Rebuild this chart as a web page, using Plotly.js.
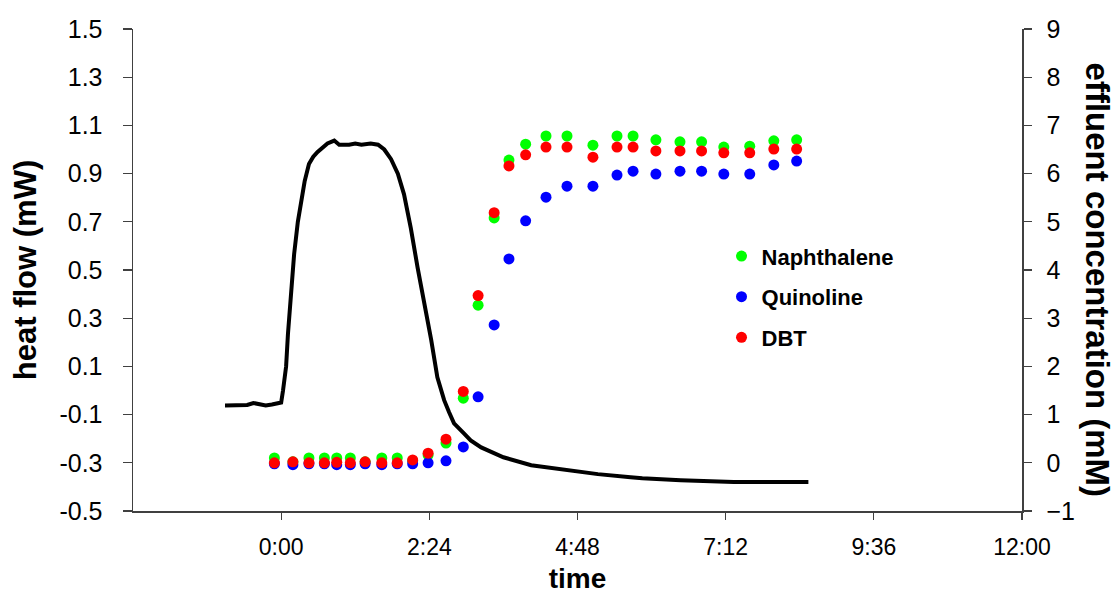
<!DOCTYPE html>
<html>
<head>
<meta charset="utf-8">
<script src="https://cdn.plot.ly/plotly-3.0.1.min.js"></script>
<style>
  html, body { margin: 0; padding: 0; background: #fff; }
  #chart { width: 1120px; height: 594px; }
</style>
</head>
<body>
<div id="chart"></div>
<script>
// ---- data (time in hours) ----
var heatTime = [-0.91, -0.7, -0.55, -0.45, -0.35, -0.25, -0.15, -0.05, 0.0, 0.03, 0.06, 0.08, 0.11, 0.16, 0.21, 0.27, 0.32, 0.38, 0.45, 0.52, 0.59, 0.67, 0.75, 0.86, 0.94, 1.1, 1.2, 1.3, 1.45, 1.57, 1.67, 1.78, 1.89, 1.99, 2.1, 2.21, 2.32, 2.43, 2.53, 2.64, 2.72, 2.8, 2.96, 3.07, 3.24, 3.4, 3.6, 4.05, 4.58, 5.13, 5.66, 5.85, 6.47, 7.33, 8.54];
var heatFlow = [-0.062, -0.062, -0.06, -0.052, -0.055, -0.062, -0.058, -0.055, -0.05, 0.0, 0.06, 0.1, 0.235, 0.426, 0.566, 0.70, 0.785, 0.868, 0.94, 0.97, 0.99, 1.01, 1.025, 1.037, 1.02, 1.02, 1.025, 1.02, 1.025, 1.02, 1.0, 0.96, 0.90, 0.814, 0.674, 0.51, 0.37, 0.21, 0.055, -0.04, -0.09, -0.136, -0.178, -0.207, -0.236, -0.255, -0.277, -0.31, -0.33, -0.347, -0.36, -0.364, -0.372, -0.38, -0.38];

var sampleTime = [-0.11, 0.19, 0.45, 0.70, 0.90, 1.12, 1.36, 1.63, 1.88, 2.13, 2.38, 2.67, 2.95, 3.19, 3.45, 3.69, 3.96, 4.29, 4.63, 5.05, 5.44, 5.70, 6.07, 6.46, 6.81, 7.17, 7.59, 7.98, 8.35];
var naphthalene = [0.10, 0.02, 0.10, 0.10, 0.10, 0.10, 0.02, 0.10, 0.10, 0.04, 0.16, 0.41, 1.34, 3.27, 5.08, 6.28, 6.61, 6.78, 6.78, 6.59, 6.78, 6.78, 6.70, 6.66, 6.66, 6.55, 6.57, 6.68, 6.70];
var quinoline   = [-0.02, -0.04, -0.02, -0.02, -0.04, -0.04, -0.02, -0.04, -0.02, -0.02, 0.0, 0.04, 0.33, 1.37, 2.86, 4.23, 5.02, 5.51, 5.74, 5.74, 5.97, 6.05, 5.99, 6.05, 6.05, 5.99, 5.99, 6.18, 6.26];
var dbt         = [0.0, 0.02, 0.0, 0.0, 0.01, 0.0, 0.02, 0.0, 0.0, 0.06, 0.20, 0.49, 1.48, 3.47, 5.19, 6.16, 6.39, 6.55, 6.55, 6.34, 6.55, 6.55, 6.47, 6.47, 6.47, 6.43, 6.43, 6.51, 6.51];

var timeTickVals = [0, 2.4, 4.8, 7.2, 9.6, 12];
var timeTickText = ["0:00", "2:24", "4:48", "7:12", "9:36", "12:00"];
var heatTickVals = [-0.5, -0.3, -0.1, 0.1, 0.3, 0.5, 0.7, 0.9, 1.1, 1.3, 1.5];
var heatTickText = ["-0.5", "-0.3", "-0.1", "0.1", "0.3", "0.5", "0.7", "0.9", "1.1", "1.3", "1.5"];

var FONT = "Liberation Sans, Arial, sans-serif";
var AX = "#404040";

var traces = [
  { x: heatTime, y: heatFlow, type: "scatter", mode: "lines", name: "heat flow",
    line: { color: "#000000", width: 4 }, showlegend: false, yaxis: "y", hoverinfo: "skip" },
  { x: sampleTime, y: naphthalene, type: "scatter", mode: "markers", name: "Naphthalene",
    marker: { color: "#00ff00", size: 11 }, yaxis: "y2", legendgroup: "a" },
  { x: sampleTime, y: quinoline, type: "scatter", mode: "markers", name: "Quinoline",
    marker: { color: "#0000ff", size: 11 }, yaxis: "y2", legendgroup: "b" },
  { x: sampleTime, y: dbt, type: "scatter", mode: "markers", name: "DBT",
    marker: { color: "#ff0000", size: 11 }, yaxis: "y2", legendgroup: "c" }
];

var layout = {
  width: 1120, height: 594,
  margin: { l: 133, r: 98, t: 29, b: 83 },
  paper_bgcolor: "#ffffff", plot_bgcolor: "#ffffff",
  font: { family: FONT, color: "#000000" },
  showlegend: true,
  legend: {
    x: 0.662, y: 0.572, xanchor: "left", yanchor: "top",
    font: { family: FONT, size: 22, color: "#000000", weight: "bold" },
    bgcolor: "rgba(0,0,0,0)", traceorder: "grouped", tracegroupgap: 9
  },
  xaxis: {
    range: [-2.4, 12], tickmode: "array", tickvals: timeTickVals, ticktext: timeTickText,
    showgrid: false, zeroline: false, showline: true, linecolor: AX, linewidth: 1.5,
    ticks: "outside", ticklen: 7, tickwidth: 1.2, tickcolor: AX,
    tickfont: { family: FONT, size: 23, color: "#000000" }, ticklabelstandoff: 8,
    title: { text: "time", font: { family: FONT, size: 28, color: "#000000", weight: "bold" }, standoff: 11 }
  },
  yaxis: {
    range: [-0.5, 1.5], tickmode: "array", tickvals: heatTickVals, ticktext: heatTickText,
    showgrid: false, zeroline: false, showline: true, linecolor: AX, linewidth: 1.5,
    ticks: "outside", ticklen: 9, tickwidth: 1.2, tickcolor: AX,
    tickfont: { family: FONT, size: 25, color: "#000000" }, ticklabelstandoff: 15,
    title: { text: "heat flow (mW)", font: { family: FONT, size: 31, color: "#000000", weight: "bold" }, standoff: 13 }
  },
  yaxis2: {
    range: [-1, 9], dtick: 1, tick0: 0, overlaying: "y", side: "right", anchor: "x",
    showgrid: false, zeroline: false, showline: true, linecolor: AX, linewidth: 1.5,
    ticks: "outside", ticklen: 8, tickwidth: 1.2, tickcolor: AX,
    tickfont: { family: FONT, size: 25, color: "#000000" }, ticklabelstandoff: 10
  },
  yaxis3: {
    range: [-1, 9], dtick: 1, tick0: 0, overlaying: "y", side: "right", anchor: "x",
    showgrid: false, zeroline: false, showline: false, showticklabels: false,
    ticks: "inside", ticklen: 8, tickwidth: 1.2, tickcolor: AX
  },
  annotations: [
    { text: "effluent concentration (mM)", xref: "paper", yref: "paper", x: 1.0844, y: 0.48,
      xanchor: "center", yanchor: "middle", textangle: 90, showarrow: false,
      font: { family: FONT, size: 33, color: "#000000", weight: "bold" } }
  ]
};

Plotly.newPlot("chart", traces, layout, { displayModeBar: false, staticPlot: true });
</script>
</body>
</html>
